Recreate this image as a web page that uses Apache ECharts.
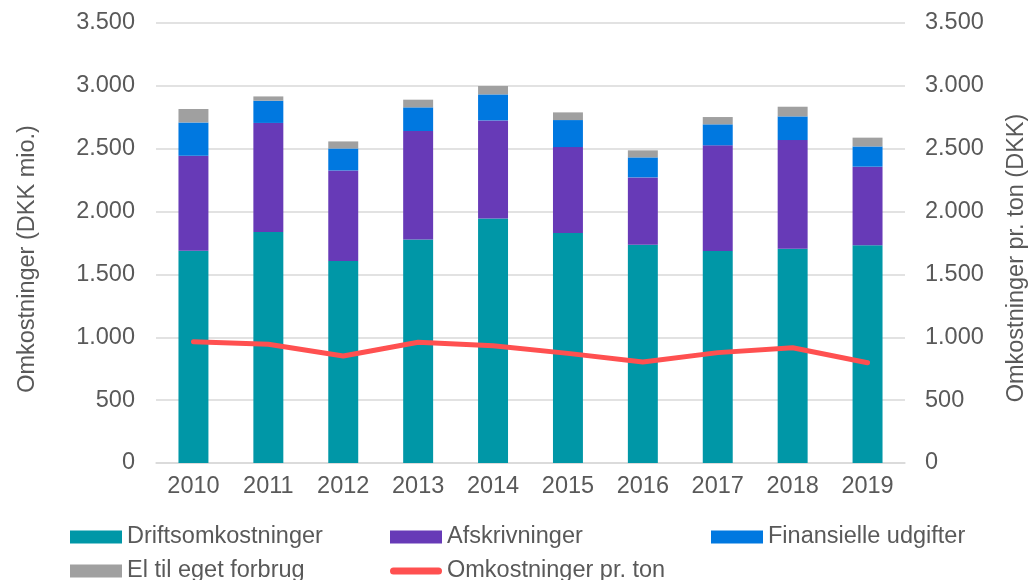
<!DOCTYPE html>
<html>
<head>
<meta charset="utf-8">
<style>
  html, body { margin: 0; padding: 0; background: #fff; }
  #chart { width: 1029px; height: 580px; }
</style>
<script src="https://cdn.jsdelivr.net/npm/echarts@6/dist/echarts.min.js"></script>
</head>
<body>
<div id="chart"></div>
<script>
const years = ['2010', '2011', '2012', '2013', '2014', '2015', '2016', '2017', '2018', '2019'];
// Bar segments, DKK mio.
const drift = [1688, 1837, 1606, 1778, 1945, 1829, 1736, 1686, 1704, 1733];
const afskrivninger = [756, 868, 721, 863, 780, 684, 536, 841, 865, 624];
const finansielle = [265, 177, 175, 188, 207, 215, 159, 167, 188, 161];
const elForbrug = [107, 34, 56, 61, 67, 61, 56, 58, 77, 70];
// Line, DKK per ton
const prTon = [965, 944, 851, 960, 933, 872, 803, 878, 917, 798];

const chart = echarts.init(document.getElementById('chart'));
const textColor = '#595959';
const fontFamily = '"Liberation Sans", Arial, sans-serif';
const fontSize = 23.5;

// Danish thousands separator
function fmt(v) {
  return String(v).replace(/\B(?=(\d{3})+(?!\d))/g, '.');
}

function barSeries(name, data, color) {
  return {
    name: name,
    type: 'bar',
    stack: 'cost',
    data: data,
    barWidth: '40%',
    itemStyle: { color: color }
  };
}

// One legend per item so the columns line up like the original
function legendItem(name, left, top, icon, h) {
  return {
    data: [name],
    left: left,
    top: top,
    itemWidth: 52,
    itemHeight: h || 13,
    icon: icon || 'rect',
    textStyle: { color: textColor, fontFamily: fontFamily, fontSize: fontSize }
  };
}

// Capsule shaped icon for the line series
const lineIcon = 'path://M3.5,0 H48.5 A3.5,3.5 0 0 1 48.5,7 H3.5 A3.5,3.5 0 0 1 3.5,0 Z';

chart.setOption({
  animation: false,
  textStyle: { fontFamily: fontFamily },
  grid: {
    left: 156,
    right: 124,
    top: 23,
    bottom: 117,
    outerBoundsMode: 'none'
  },
  legend: [
    legendItem('Driftsomkostninger', 65, 520),
    legendItem('Afskrivninger', 385, 520),
    legendItem('Finansielle udgifter', 706, 520),
    legendItem('El til eget forbrug', 65, 554),
    legendItem('Omkostninger pr. ton', 385, 554, lineIcon, 7)
  ],
  xAxis: {
    type: 'category',
    data: years,
    axisLine: { lineStyle: { color: '#d9d9d9', width: 1.5 } },
    axisTick: { show: false },
    axisLabel: { color: textColor, fontSize: fontSize, margin: 12 }
  },
  yAxis: [
    {
      type: 'value',
      min: 0,
      max: 3500,
      interval: 500,
      name: 'Omkostninger (DKK mio.)',
      nameLocation: 'middle',
      nameRotate: 90,
      nameGap: 116,
      nameTextStyle: { color: textColor, fontSize: fontSize, padding: [0, 32, 0, 0] },
      axisLabel: { color: textColor, fontSize: fontSize, margin: 21, formatter: fmt },
      splitLine: { lineStyle: { color: '#d9d9d9', width: 1.5 } }
    },
    {
      type: 'value',
      min: 0,
      max: 3500,
      interval: 500,
      position: 'right',
      name: 'Omkostninger pr. ton (DKK)',
      nameLocation: 'middle',
      nameRotate: 90,
      nameGap: 100,
      nameTextStyle: { color: textColor, fontSize: fontSize, padding: [0, 30, 0, 0] },
      axisLabel: { color: textColor, fontSize: fontSize, margin: 20, formatter: fmt },
      splitLine: { show: false }
    }
  ],
  series: [
    barSeries('Driftsomkostninger', drift, '#0097a7'),
    barSeries('Afskrivninger', afskrivninger, '#673ab7'),
    barSeries('Finansielle udgifter', finansielle, '#0078e0'),
    barSeries('El til eget forbrug', elForbrug, '#a0a0a0'),
    {
      name: 'Omkostninger pr. ton',
      type: 'line',
      yAxisIndex: 1,
      data: prTon,
      symbol: 'none',
      itemStyle: { color: '#ff5050' },
      lineStyle: { color: '#ff5050', width: 5, cap: 'round', join: 'round' }
    }
  ]
});
</script>
</body>
</html>
